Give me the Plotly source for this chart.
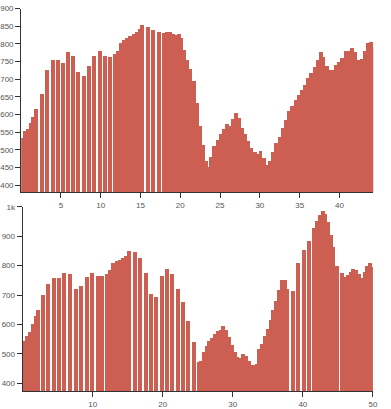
import plotly.graph_objects as go

# ---- data: top profile (km, elevation m) ----
top_km = [0.15, 0.5, 0.85, 1.2, 1.55, 1.9,
          2.6, 3.31, 3.99, 4.6, 5.22, 5.88, 6.54, 7.19, 7.87, 8.56, 9.22, 9.87, 10.53, 11.13,
          11.75, 12.15, 12.55, 12.95, 13.35, 13.75, 14.15, 14.55, 14.95, 15.25,
          15.95, 16.6, 17.3, 17.95,
          18.35, 18.75, 19.15, 19.55, 19.8, 20.1, 20.5, 20.9, 21.3, 21.7, 22.1, 22.5, 22.9,
          23.3, 23.6, 23.9, 24.3, 24.7, 25.1, 25.5, 25.9, 26.3, 26.7, 27.0, 27.35, 27.75,
          28.15, 28.55, 28.95, 29.35, 29.75, 30.1, 30.5, 30.9, 31.3, 31.7, 32.1, 32.5, 32.9,
          33.3, 33.7, 34.1, 34.5, 34.9, 35.3, 35.7, 36.1, 36.5, 36.9, 37.3, 37.65, 38.0,
          38.4, 38.8, 39.2, 39.6, 40.0, 40.4, 40.8, 41.2, 41.6, 42.0, 42.4, 42.8, 43.2,
          43.6, 44.0, 44.2]
top_elev = [535, 556, 560, 578, 595, 618,
            660, 728, 757, 757, 748, 777, 768, 722, 710, 740, 768, 780, 767, 765,
            772, 782, 803, 812, 818, 824, 828, 834, 842, 855,
            850, 840, 834, 833,
            836, 836, 829, 826, 830, 818, 785, 757, 730, 695, 635, 570, 515,
            470, 452, 480, 512, 528, 545, 560, 575, 568, 590, 605, 592, 562,
            546, 527, 506, 494, 490, 497, 478, 458, 470, 494, 520, 538, 562,
            585, 610, 625, 642, 658, 672, 686, 705, 720, 737, 757, 777, 763,
            738, 727, 728, 742, 750, 760, 782, 782, 791, 779, 756, 758, 780,
            803, 807, 793]

# ---- data: bottom profile (km, elevation m) ----
bot_km = [0.2, 0.6, 1.0, 1.4, 1.8, 2.15,
          2.84, 3.61, 4.37, 5.14, 5.91, 6.7, 7.53, 8.3, 9.11, 9.89, 10.64, 11.34,
          12.0, 12.45, 12.9, 13.35, 13.8, 14.25, 14.7, 15.15,
          16.0, 16.76, 17.52, 18.28, 19.04, 19.8, 20.56, 21.32, 22.08, 22.84, 23.6, 24.36,
          25.1, 25.45, 25.8, 26.2, 26.6, 27.0, 27.4, 27.8, 28.2, 28.6, 29.0, 29.4, 29.8,
          30.2, 30.6, 31.0, 31.4, 31.8, 32.2, 32.6, 33.0, 33.4, 33.75, 34.15, 34.55,
          34.95, 35.35, 35.75, 36.15, 36.55, 36.95, 37.35, 37.75,
          38.57, 39.32, 40.1, 40.82,
          41.52, 41.95, 42.35, 42.75, 43.15, 43.55, 43.95, 44.2,
          44.83,
          45.55, 45.95, 46.35, 46.75, 47.15, 47.55, 47.95, 48.35, 48.75, 49.15, 49.55, 49.9]
bot_elev = [545, 560, 575, 600, 627, 650,
            700, 738, 757, 757, 776, 770, 720, 730, 763, 776, 765, 766,
            773, 785, 808, 816, 821, 826, 834, 850,
            845, 825, 775, 703, 695, 765, 790, 770, 722, 675, 612, 540,
            472, 476, 505, 527, 542, 555, 568, 576, 582, 595, 580, 557, 530,
            505, 490, 484, 500, 492, 475, 463, 462, 466, 517, 533, 560,
            585, 615, 650, 680, 718, 750, 750, 722,
            715, 810, 855, 885,
            928, 952, 972, 987, 975, 950, 905, 865,
            800,
            775, 760, 768, 780, 788, 785, 770, 757, 780, 800, 808, 795]

top_ticks = [5, 10, 15, 20, 25, 30, 35, 40]
top_yticks = [400, 450, 500, 550, 600, 650, 700, 750, 800, 850, 900]
bot_ticks = [10, 20, 30, 40, 50]
bot_yticks = [400, 500, 600, 700, 800, 900, 1000]
bot_yticktext = ["400", "500", "600", "700", "800", "900", "1k"]

W, H = 391, 409
BAR = "rgb(205,94,82)"
AX = "#333"

fig = go.Figure()
fig.add_trace(go.Bar(x=top_km, y=top_elev, width=0.5, marker=dict(color=BAR, line=dict(width=0)),
                     xaxis="x", yaxis="y", hoverinfo="skip"))
fig.add_trace(go.Bar(x=bot_km, y=bot_elev, width=0.57, marker=dict(color=BAR, line=dict(width=0)),
                     xaxis="x2", yaxis="y2", hoverinfo="skip"))

def px_x(p):
    return p / W

def px_y(p):
    return 1 - p / H

font = dict(family="Liberation Sans, Arial, sans-serif", size=8, color="#555")
common = dict(showgrid=False, zeroline=False, showline=True, linecolor=AX, linewidth=1,
              ticks="outside", ticklen=5, tickcolor=AX, tickwidth=1, tickfont=font, mirror=False)

fig.update_layout(
    width=W, height=H, margin=dict(l=0, r=0, t=0, b=0),
    paper_bgcolor="white", plot_bgcolor="white", showlegend=False,
    barmode="overlay", bargap=0,
    xaxis=dict(domain=[px_x(19.5), px_x(378)], range=[0, 44.25], tickvals=top_ticks,
               anchor="y", **common),
    yaxis=dict(domain=[px_y(190.7), px_y(4.7)], range=[381.3, 900], tickvals=top_yticks,
               anchor="x", **common),
    xaxis2=dict(domain=[px_x(21.0), px_x(377.7)], range=[0, 50], tickvals=bot_ticks,
                anchor="y2", **common),
    yaxis2=dict(domain=[px_y(392.7), px_y(206)], range=[373.1, 1000], tickvals=bot_yticks,
                ticktext=bot_yticktext, anchor="x2", **common),
)

fig.write_html("out.html")
